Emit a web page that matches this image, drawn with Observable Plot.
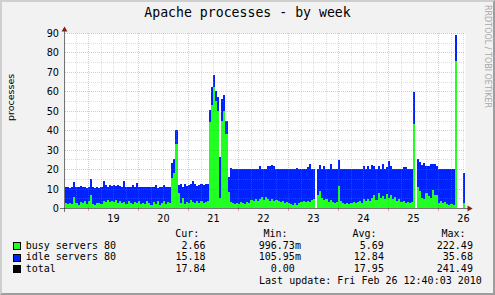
<!DOCTYPE html>
<html>
<head>
<meta charset="utf-8">
<script src="https://cdn.jsdelivr.net/npm/d3@7"></script>
<script src="https://cdn.jsdelivr.net/npm/@observablehq/plot@0.6"></script>
<style>
html,body{margin:0;padding:0;background:#f2f2f2;}
#root{position:relative;width:495px;height:295px;background:#f2f2f2;overflow:hidden;}
#shade{position:absolute;left:0;top:0;width:495px;height:295px;box-sizing:border-box;border-style:solid;border-width:2px;border-color:#cfcfcf #9e9e9e #9e9e9e #cfcfcf;}
.t{position:absolute;white-space:pre;color:#000;}
#plot{position:absolute;left:0;top:22px;width:495px;height:210px;}
.sw{position:absolute;width:6px;height:6px;border:1px solid #000;}
</style>
</head>
<body>
<div id="root"><div id="shade"></div><div id="plot"></div></div>
<script>
// ---- data (hourly samples, null = no data) ----
const title = "Apache processes - by week";
const yAxisLabel = "processes";
const watermark = "RRDTOOL / TOBI OETIKER";
const lastUpdate = "Last update: Fri Feb 26 12:40:03 2010";

const startDay = 18.04;          // x position in day units (label n = noon of Feb n)
const stepDay = 1 / 24;          // one sample per hour

const busyServers = [
  2.5,2.2,2.6,2.0,5.6,2.4,1.8,3.0,2.6,3.6, 2.2,3.4,6.8,2.0,1.6,2.6,2.4,2.2,3.6,3.2,
  4.0,3.0,3.8,3.2,4.2,2.8,3.4,2.4,3.0,2.2, 3.6,2.6,2.0,3.2,2.4,3.4,2.0,2.8,2.2,3.6,
  2.4,1.8,3.0,2.2,3.4,1.6,2.6,3.8,2.2,3.0, 2.4,
  15.5,18,33,7.5,2.6,5.0,2.2,3.2,2.4,4.0, 3.0,2.6,3.6,2.4,3.8,2.6,3.2,3.6,
  44,53,62,55,50,5,45,50,38,8,3,
  2.4,2.0,2.8,2.2,3.0,2.6,2.0,3.2,2.4,4.0, 3.4,4.6,3.8,4.4,5.6,4.2,5.8,4.6,3.8,4.4,
  3.6,4.0,3.4,3.0,3.6,2.8,3.2,2.6,2.2,1.8, 2.4,1.6,2.6,3.0,3.4,3.0,3.6,3.2,4.0,4.4,
  null,
  6.8,8.5,5.0,4.0,4.6,3.2,4.0,3.0,2.6,3.0, 11.5,3.4,2.6,2.2,2.8,2.0,2.6,3.2,2.4,3.0,
  3.8,2.6,4.4,3.6,4.8,3.4,5.2,6.8,4.2,7.6, 5.0,6.2,4.4,7.0,5.4,6.6,4.6,5.8,3.8,4.6,
  3.2,3.8,2.6,3.2,2.4,3.0,
  43,
  null,
  11,8.5,5.4,4.4,7.6,6.0,5.0,9.2,6.8,6.6, 2.8,3.4,2.6,3.2,2.2,1.8,2.0,1.6,
  75.5,
  null,null,null,
  2.66
];
const idleServers = [
  8.1,8.4,7.8,8.6,7.8,8.4,8.8,8.2,8.0,7.4, 8.2,7.4,8.2,8.6,8.8,8.0,8.0,8.6,10.4,8.8,
  7.0,8.6,7.6,8.4,7.2,8.8,7.8,8.2,11.0,8.6, 7.0,8.4,10.0,7.4,10.6,7.6,8.6,8.0,8.8,7.0,
  8.4,8.8,8.0,9.8,7.0,9.2,8.0,7.8,8.4,7.8, 8.2,
  7.7,7.0,7.0,4.5,9.8,6.0,10.4,8.2,9.2,8.2, 10.8,9.8,7.8,9.2,8.8,9.2,9.0,8.8,
  6.5,9,6.5,5,7,21,11,8,7,8,17.4,
  17.9,18.3,17.5,18.1,17.3,17.7,18.3,17.1,17.9,16.3, 16.9,15.7,16.5,17.4,14.7,16.1,14.5,17.0,17.8,17.8,
  17.8,16.3,16.9,17.3,16.7,17.5,17.1,17.7,18.1,18.5, 17.9,19.2,17.7,17.3,16.9,17.3,17.4,19.6,16.3,15.9,
  null,
  13.5,13.7,15.3,17.7,15.7,17.1,18.8,17.3,17.7,17.3, 13.3,16.9,17.7,18.1,17.5,18.3,17.7,17.1,17.9,17.3,
  16.5,17.7,17.0,16.7,16.8,16.9,16.8,14.6,16.1,14.2, 15.3,16.2,15.9,14.2,18.6,15.0,15.7,14.5,16.5,15.7,
  17.1,17.5,18.7,17.1,17.9,17.3,
  16.5,
  null,
  14.3,15.0,16.6,18.6,13.8,15.4,17.4,13.6,15.6,15.2, 17.5,16.9,17.7,17.1,18.1,18.5,18.3,18.7,
  13.5,
  null,null,null,
  15.18
];

const seriesNames = ["busy servers 80", "idle servers 80", "total"];
const seriesColors = ["#22ff22", "#0022ff", "#000000"];
const curValues = ["2.66", "15.18", "17.84"];
const minValues = ["996.73m", "105.95m", "0.00"];
const avgValues = ["5.69", "12.84", "17.95"];
const maxValues = ["222.49", "35.68", "241.49"];
const columnHeads = ["Cur:", "Min:", "Avg:", "Max:"];

const xTickLabels = [19, 20, 21, 22, 23, 24, 25, 26];
const yTickLabels = [0, 10, 20, 30, 40, 50, 60, 70, 80, 90];

// ---- build table ----
const n = busyServers.length;
const rows = [];
for (let i = 0; i <= n; i++) {
  const k = Math.min(i, n - 1);
  const t = startDay + i * stepDay;
  rows.push({t, series: "busy", value: busyServers[k] ?? 0});
  rows.push({t, series: "idle", value: idleServers[k] ?? 0});
}
const xDomain = [startDay, startDay + n * stepDay];
const quarters = d3.range(Math.ceil(xDomain[0] * 4), Math.floor(xDomain[1] * 4) + 1);
const xMajor = quarters.filter(q => q % 4 === 2).map(q => q / 4);
const xMinor = quarters.filter(q => q % 4 !== 2).map(q => q / 4);
const yMajor = d3.range(10, 91, 10);
const yMinor = d3.range(5, 90, 10);

const gridColor = "rgb(143,143,143)";
const mgridColor = "rgb(222,79,79)";
const axisColor = "#1f1f1f";
const arrowColor = "#801f1f";

const chart = Plot.plot({
  width: 495, height: 210,
  marginLeft: 65, marginRight: 30, marginTop: 11, marginBottom: 24,
  x: {domain: xDomain, axis: null, round: true, label: null},
  y: {domain: [0, 90], axis: null, round: true, label: null},
  color: {domain: ["busy", "idle"], range: [seriesColors[0], seriesColors[1]]},
  style: {fontFamily: "DejaVu Sans", fontSize: "9.7px", color: "#000", background: "transparent", overflow: "visible"},
  marks: [
    Plot.frame({fill: "white", stroke: "none"}),
    Plot.areaY(rows, {x: "t", y: "value", z: "series", fill: "series", curve: "step-after"}),
    Plot.ruleX(xMinor, {stroke: gridColor, strokeOpacity: 0.75, strokeWidth: 0.4, strokeDasharray: "1,1"}),
    Plot.ruleY(yMinor, {stroke: gridColor, strokeOpacity: 0.75, strokeWidth: 0.4, strokeDasharray: "1,1"}),
    Plot.ruleX(xMajor, {stroke: mgridColor, strokeOpacity: 0.6, strokeWidth: 0.6, strokeDasharray: "1,1"}),
    Plot.ruleY(yMajor, {stroke: mgridColor, strokeOpacity: 0.6, strokeWidth: 0.6, strokeDasharray: "1,1"}),
    Plot.axisX({ticks: xMajor, tickSize: 3, fill: "none", stroke: mgridColor, strokeOpacity: 0.6, strokeWidth: 0.8, label: null}),
    Plot.ruleY([0], {stroke: axisColor, strokeWidth: 0.6, insetLeft: -5, insetRight: -4}),
    Plot.ruleX([xDomain[0]], {stroke: axisColor, strokeWidth: 0.6, insetTop: -4, insetBottom: -4, dx: -1}),
    Plot.dot([xDomain[1]], {x: d => d, y: () => 0, symbol: "triangle", r: 2.2, fill: arrowColor, stroke: "none", rotate: 90, dx: 3.7}),
    Plot.dot([90], {x: () => xDomain[0], y: d => d, symbol: "triangle", r: 2.2, fill: arrowColor, stroke: "none", dx: -1, dy: -3.7}),
    Plot.axisX({ticks: xTickLabels, tickSize: 0, tickPadding: 7, tickFormat: d => String(d), label: null, fontSize: 9.7, color: "#000"}),
    Plot.axisY({ticks: yTickLabels, tickSize: 0, tickPadding: 6.5, tickFormat: d => String(d), label: null, fontSize: 9.7, color: "#000"}),
    Plot.text([yAxisLabel], {text: d => d, frameAnchor: "left", rotate: -90, dx: -54.5, fontSize: 9.5, fill: "#000"})
  ]
});
document.getElementById("plot").appendChild(chart);

// ---- html text: title, legend, watermark ----
const root = document.getElementById("root");
const MONO = '"DejaVu Sans Mono", monospace';
function put(text, {x, anchor = "start", baseline, size = 10, family = MONO, color = "#000"}) {
  const el = document.createElement("div");
  el.className = "t";
  el.textContent = text;
  const lh = Math.ceil(size * 1.25);
  el.style.fontSize = size + "px";
  el.style.lineHeight = lh + "px";
  el.style.fontFamily = family;
  el.style.color = color;
  el.style.top = (baseline - ((lh - 1.164 * size) / 2 + 0.928 * size)) + "px";
  if (anchor === "start") el.style.left = x + "px";
  else if (anchor === "end") el.style.right = (495 - x) + "px";
  else { el.style.left = x + "px"; el.style.transform = "translateX(-50%)"; }
  root.appendChild(el);
  return el;
}

put(title, {x: 247.5, anchor: "middle", baseline: 17.5, size: 13.2});

const headLeft = [175.2, 263.5, 352.5, 441.5];
columnHeads.forEach((h, j) => put(h, {x: headLeft[j], baseline: 237.3}));

const rowBase = [248.7, 260.3, 272.0];
const colRight = [205.6, 294.9, 383.9, 472.9];
const cols = [curValues, minValues, avgValues, maxValues];
seriesNames.forEach((name, i) => {
  const b = rowBase[i];
  const sw = document.createElement("div");
  sw.className = "sw";
  sw.style.left = "13px";
  sw.style.top = (b - 6.7) + "px";
  sw.style.background = seriesColors[i];
  root.appendChild(sw);
  put(name, {x: 25.7, baseline: b});
  cols.forEach((col, j) => {
    const v = col[i];
    const suffixed = /[a-zA-Z]$/.test(v);
    put(v, {x: colRight[j] + (suffixed ? 6.02 : 0), anchor: "end", baseline: b});
  });
});

put(lastUpdate, {x: 481.8, anchor: "end", baseline: 283.6});

const wm = document.createElement("div");
wm.className = "t";
wm.textContent = watermark;
wm.style.fontFamily = '"DejaVu Sans", sans-serif';
wm.style.fontSize = "8px";
wm.style.lineHeight = "8px";
wm.style.color = "#a8a8a8";
wm.style.left = "491px";
wm.style.top = "5px";
wm.style.transformOrigin = "0 0";
wm.style.transform = "rotate(90deg)";
root.appendChild(wm);
</script>
</body>
</html>
